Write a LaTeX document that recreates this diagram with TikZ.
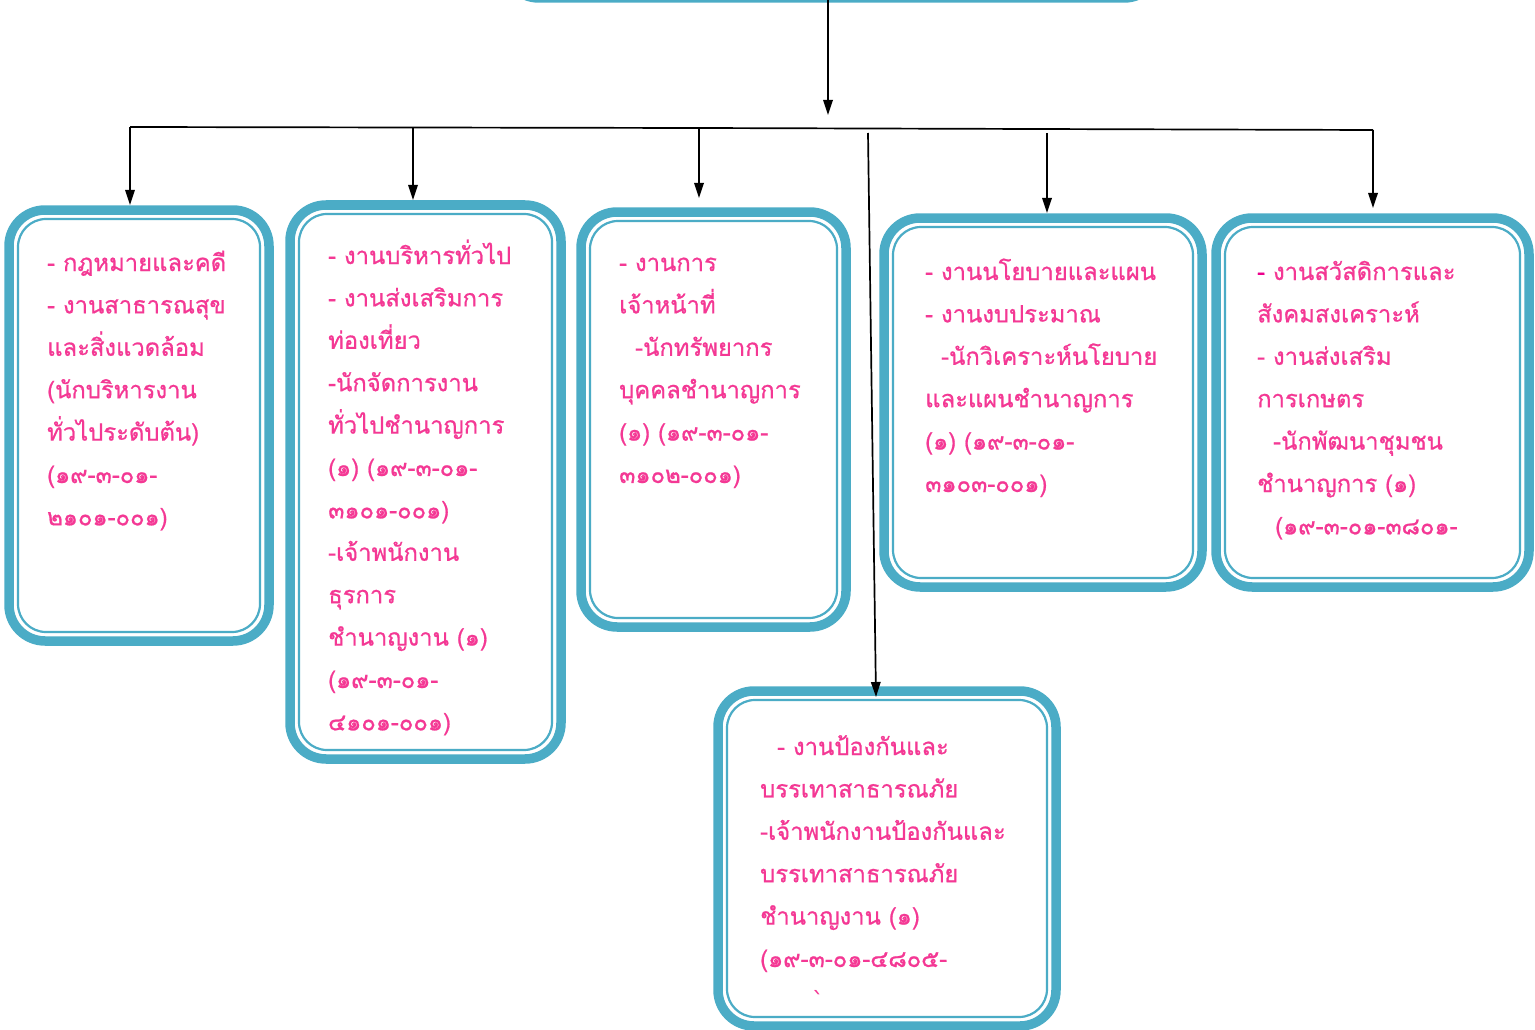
\documentclass[tikz,border=0pt]{standalone}
\usepackage{fontspec}
\newfontfamily\thaifont[Script=Thai,FakeBold=0.8]{Loma}
\newfontfamily\dejavu{DejaVu Sans}
\usetikzlibrary{arrows.meta}
\definecolor{tealb}{RGB}{75,172,198}
\definecolor{pinkt}{RGB}{244,56,148}
\tikzset{
  outerbox/.style={draw=tealb, line width=9.5pt, rounded corners=36pt, fill=white, rectangle, inner sep=0pt, outer sep=0pt},
  innerline/.style={draw=tealb, line width=2.2pt, rounded corners=28pt},
  txt/.style={font=\thaifont\fontsize{23.8}{42.4}\selectfont, text=pinkt, align=left, text width=320pt, anchor=base west, inner sep=0pt},
  conn/.style={line width=1.7pt, black},
  arr/.style={conn, -{Triangle[length=15pt,width=9.5pt]}}
}
\newcommand\innerframe[1]{\draw[innerline] ([shift={(9pt,-9pt)}]#1.north west) rectangle ([shift={(-9pt,9pt)}]#1.south east);}
\begin{document}
\begin{tikzpicture}[x=1pt,y=-1pt]
\useasboundingbox (0,0) rectangle (1535,1030);
% top box (cut off)
\begin{scope}
\clip (0,0) rectangle (1535,1030);
\node[outerbox, minimum width=657pt, minimum height=100pt] (top) at (831.5,-52) {};
\end{scope}
% boxes
\node[outerbox, minimum width=260pt, minimum height=431pt] (b1) at (139,425.5) {};
\innerframe{b1}
\node[outerbox, minimum width=271pt, minimum height=554pt] (b2) at (425.5,482) {};
\innerframe{b2}
\node[outerbox, minimum width=265pt, minimum height=415pt] (b3) at (713.5,419.5) {};
\innerframe{b3}
\node[outerbox, minimum width=318pt, minimum height=369pt] (b4) at (1043,402.5) {};
\innerframe{b4}
\node[outerbox, minimum width=313pt, minimum height=369pt] (b5) at (1372.5,402.5) {};
\innerframe{b5}
\node[outerbox, minimum width=338pt, minimum height=335pt] (b6) at (887,858.5) {};
\innerframe{b6}
% texts
\node[txt] (t1) at (47,271) {- กฎหมายและคดี\\- งานสาธารณสุข\\และสิ่งแวดล้อม\\(นักบริหารงาน\\ทั่วไประดับต้น)\\(๑๙-๓-๐๑-\\๒๑๐๑-๐๐๑)};
\node[txt] (t2) at (328,264) {- งานบริหารทั่วไป\\- งานส่งเสริมการ\\ท่องเที่ยว\\-นักจัดการงาน\\ทั่วไปชำนาญการ\\(๑) (๑๙-๓-๐๑-\\๓๑๐๑-๐๐๑)\\-เจ้าพนักงาน\\ธุรการ\\ชำนาญงาน (๑)\\(๑๙-๓-๐๑-\\๔๑๐๑-๐๐๑)};
\node[txt] (t3) at (619,271) {- งานการ\\เจ้าหน้าที่\\\hspace*{16pt}-นักทรัพยากร\\บุคคลชำนาญการ\\(๑) (๑๙-๓-๐๑-\\๓๑๐๒-๐๐๑)};
\node[txt] (t4) at (925,280) {- งานนโยบายและแผน\\- งานงบประมาณ\\\hspace*{16pt}-นักวิเคราะห์นโยบาย\\และแผนชำนาญการ\\(๑) (๑๙-๓-๐๑-\\๓๑๐๓-๐๐๑)};
\node[txt] (t5) at (1257,280) {\textcolor{magenta}{-} งานสวัสดิการและ\\สังคมสงเคราะห์\\- งานส่งเสริม\\การเกษตร\\\hspace*{16pt}-นักพัฒนาชุมชน\\ชำนาญการ (๑)\\\hspace*{18pt}(๑๙-๓-๐๑-๓๘๐๑-};
\node[txt] (t6) at (760,755) {\hspace*{17pt}- งานป้องกันและ\\บรรเทาสาธารณภัย\\-เจ้าพนักงานป้องกันและ\\บรรเทาสาธารณภัย\\ชำนาญงาน (๑)\\(๑๙-๓-๐๑-๔๘๐๕-\\\hspace*{52pt}{\dejavu ˋ}};
% connectors
\coordinate (j) at (828,115);
\coordinate (busL) at (130,127);
\coordinate (busR) at (1373,130);
\coordinate (bus2) at (413,127.5);
\coordinate (bus3) at (699,128);
\coordinate (bus4) at (1047,133);
\coordinate (bus6) at (868,133);
\coordinate (e3) at (699,198);
\coordinate (e6) at (876,697);
\draw[arr] (top.south -| j) -- (j);
\draw[conn] (busL) -- (bus3) -- (busR);
\draw[arr] (busL) -- ([yshift=5pt]busL |- b1.north);
\draw[arr] (bus2) -- ([yshift=5pt]bus2 |- b2.north);
\draw[arr] (bus3) -- (e3);
\draw[arr] (bus4) -- ([yshift=5pt]bus4 |- b4.north);
\draw[arr] (busR) -- ([yshift=10pt]busR |- b5.north);
\draw[arr] (bus6) -- (e6);
\end{tikzpicture}
\end{document}
